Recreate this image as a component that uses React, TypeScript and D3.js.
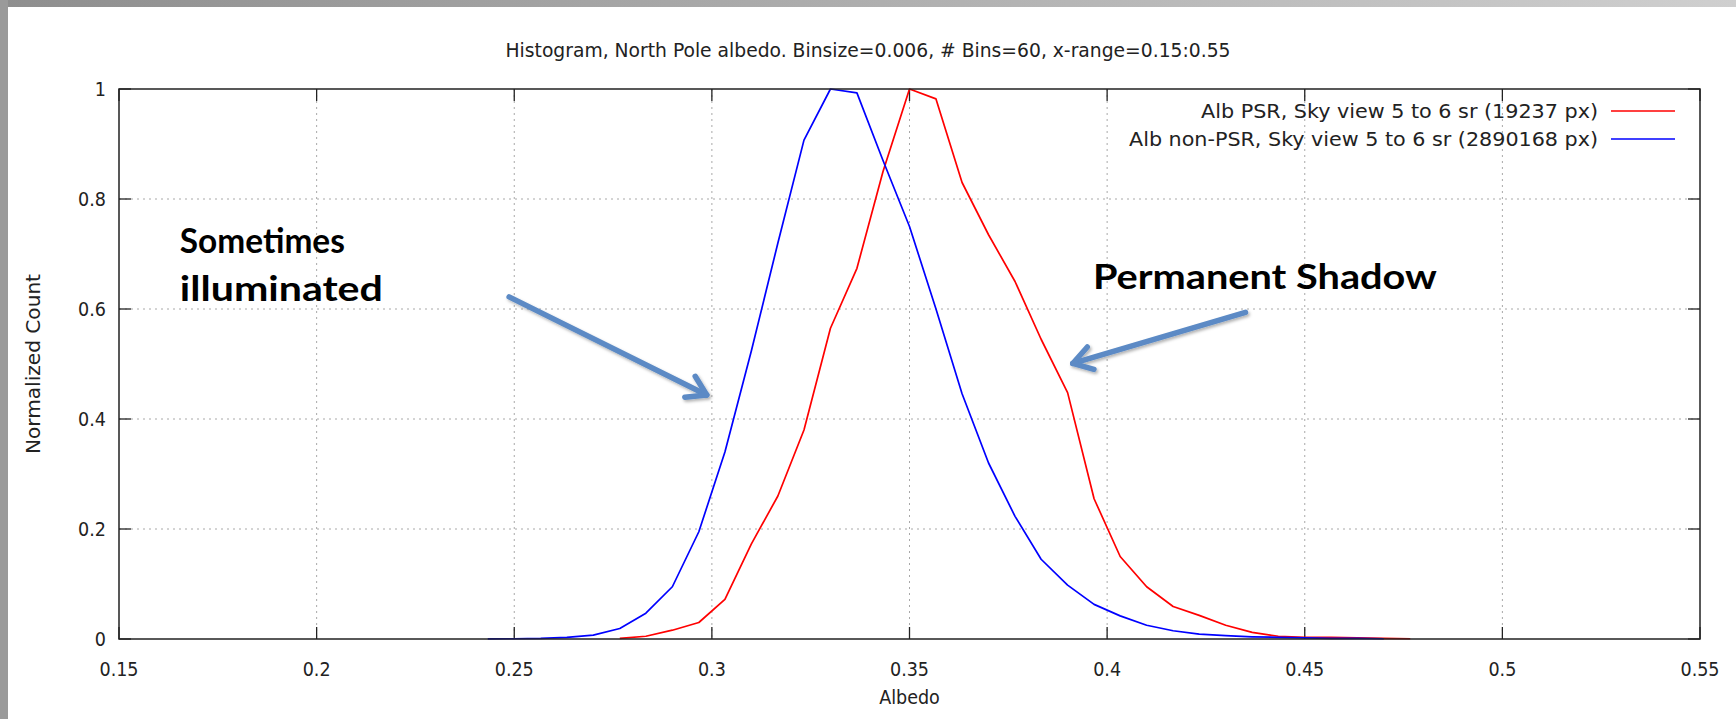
import React from 'react';
import * as d3 from 'd3';

// ---------------- data ----------------
const binCenters = [
  0.23, 0.2367, 0.2433, 0.25, 0.2567, 0.2633, 0.27, 0.2767, 0.2833, 0.29,
  0.2967, 0.3033, 0.31, 0.3167, 0.3233, 0.33, 0.3367, 0.3433, 0.35, 0.3567,
  0.3633, 0.37, 0.3767, 0.3833, 0.39, 0.3967, 0.4033, 0.41, 0.4167, 0.4233,
  0.43, 0.4367, 0.4433, 0.45, 0.4567, 0.4633, 0.47, 0.4767, 0.4833,
];

// red: Alb PSR
const psrCounts: (number | null)[] = [
  null, null, null, null, null, null, null, 0.001, 0.005, 0.016,
  0.03, 0.072, 0.173, 0.26, 0.38, 0.565, 0.674, 0.85, 1.0, 0.982,
  0.83, 0.735, 0.65, 0.545, 0.448, 0.255, 0.15, 0.095, 0.059, 0.043,
  0.025, 0.012, 0.005, 0.003, 0.003, 0.002, 0.001, 0.0005, null,
];

// blue: Alb non-PSR
const nonPsrCounts: (number | null)[] = [
  null, null, 0.0003, 0.0005, 0.001, 0.003, 0.007, 0.019, 0.047, 0.095,
  0.195, 0.34, 0.524, 0.72, 0.907, 1.0, 0.993, 0.87, 0.75, 0.6,
  0.446, 0.32, 0.223, 0.145, 0.098, 0.063, 0.042, 0.025, 0.015, 0.009,
  0.006, 0.004, 0.003, 0.002, 0.001, 0.001, 0.0005, null, null,
];

const xTicks = [0.15, 0.2, 0.25, 0.3, 0.35, 0.4, 0.45, 0.5, 0.55];
const yTicks = [0, 0.2, 0.4, 0.6, 0.8, 1];
const xDomain = [0.15, 0.55];
const yDomain = [0, 1];

const titleText = 'Histogram, North Pole albedo. Binsize=0.006, # Bins=60, x-range=0.15:0.55';
const xLabel = 'Albedo';
const yLabel = 'Normalized Count';
const seriesNames = [
  'Alb PSR, Sky view 5 to 6 sr (19237 px)',
  'Alb non-PSR, Sky view 5 to 6 sr (2890168 px)',
];
const seriesColors = ['#ff0000', '#0000ff'];

// annotations (data coordinates)
const annoLeft = ['Sometimes', 'illuminated'];
const annoRight = 'Permanent Shadow';
const arrowLeft = { from: [0.2487, 0.622], to: [0.2987, 0.4436] };
const arrowRight = { from: [0.435, 0.594], to: [0.3913, 0.501] };

// ---------------- layout ----------------
const W = 1736;
const H = 719;
const PL = 119;
const PR = 1700;
const PT = 89;
const PB = 639;

const chartFont = "'DejaVu Sans Condensed', 'DejaVu Sans', sans-serif";
const annoFont = "Lato, 'Open Sans', sans-serif";
const arrowColor = '#5b8ac5';
const fs = 19.5;

export default function App() {
  const x = d3.scaleLinear().domain(xDomain).range([PL, PR]);
  const y = d3.scaleLinear().domain(yDomain).range([PB, PT]);

  const line = d3
    .line<[number, number | null]>()
    .defined((d) => d[1] != null)
    .x((d) => x(d[0]))
    .y((d) => y(d[1] as number));

  const psrPath = line(binCenters.map((b, i) => [b, psrCounts[i]]));
  const nonPsrPath = line(binCenters.map((b, i) => [b, nonPsrCounts[i]]));

  const tickLen = 12;

  const arrow = (a: { from: number[]; to: number[] }) => {
    const x1 = x(a.from[0]);
    const y1 = y(a.from[1]);
    const x2 = x(a.to[0]);
    const y2 = y(a.to[1]);
    const ang = Math.atan2(y1 - y2, x1 - x2);
    const L = 22;
    const spread = (32 * Math.PI) / 180;
    const ax1 = x2 + L * Math.cos(ang + spread);
    const ay1 = y2 + L * Math.sin(ang + spread);
    const ax2 = x2 + L * Math.cos(ang - spread);
    const ay2 = y2 + L * Math.sin(ang - spread);
    return (
      <g filter="url(#shadow)">
        <line x1={x1} y1={y1} x2={x2} y2={y2} stroke={arrowColor} strokeWidth={5.5} strokeLinecap="round" />
        <polyline
          points={`${ax1},${ay1} ${x2},${y2} ${ax2},${ay2}`}
          fill="none"
          stroke={arrowColor}
          strokeWidth={5.5}
          strokeLinecap="round"
          strokeLinejoin="round"
        />
      </g>
    );
  };

  return (
    <svg
      width={W}
      height={H}
      style={{ position: 'absolute', left: 0, top: 0, display: 'block', background: '#fff' }}
    >
      <defs>
        <linearGradient id="topband" x1="0" x2="1" y1="0" y2="0">
          <stop offset="0" stopColor="#8e8e8e" />
          <stop offset="1" stopColor="#cfcfcf" />
        </linearGradient>
        <filter id="shadow" x="-20%" y="-20%" width="140%" height="140%">
          <feDropShadow dx="1.5" dy="2" stdDeviation="1.5" floodColor="#000" floodOpacity="0.3" />
        </filter>
      </defs>
      <rect x={0} y={0} width={W} height={H} fill="#ffffff" />
      {/* slide frame */}
      <rect x={0} y={0} width={W} height={7} fill="url(#topband)" />
      <rect x={0} y={0} width={8} height={H} fill="#9a9a9a" />

      {/* title */}
      <text
        x={W / 2}
        y={50}
        textAnchor="middle"
        dominantBaseline="central"
        fontFamily={chartFont}
        fontStretch="condensed"
        fontSize={fs}
        fill="#222"
        textLength={725}
        lengthAdjust="spacingAndGlyphs"
      >
        {titleText}
      </text>

      {/* grid */}
      <g stroke="#a8a8a8" strokeWidth={1} strokeDasharray="2,4">
        {xTicks.slice(1, -1).map((t) => (
          <line key={'gx' + t} x1={x(t)} x2={x(t)} y1={PT} y2={PB} />
        ))}
        {yTicks.slice(1, -1).map((t) => (
          <line key={'gy' + t} x1={PL} x2={PR} y1={y(t)} y2={y(t)} />
        ))}
      </g>

      {/* ticks */}
      <g stroke="#222" strokeWidth={1.3}>
        {xTicks.map((t) => (
          <g key={'tx' + t}>
            <line x1={x(t)} x2={x(t)} y1={PB} y2={PB - tickLen} />
            <line x1={x(t)} x2={x(t)} y1={PT} y2={PT + tickLen} />
          </g>
        ))}
        {yTicks.map((t) => (
          <g key={'ty' + t}>
            <line x1={PL} x2={PL + tickLen} y1={y(t)} y2={y(t)} />
            <line x1={PR} x2={PR - tickLen} y1={y(t)} y2={y(t)} />
          </g>
        ))}
      </g>

      {/* tick labels */}
      <g fontFamily={chartFont} fontStretch="condensed" fontSize={fs} fill="#222">
        {xTicks.map((t) => (
          <text key={'lx' + t} x={x(t)} y={669} textAnchor="middle" dominantBaseline="central">
            {String(t)}
          </text>
        ))}
        {yTicks.map((t) => (
          <text key={'ly' + t} x={106} y={y(t)} textAnchor="end" dominantBaseline="central">
            {String(t)}
          </text>
        ))}
      </g>

      {/* axis labels */}
      <text
        x={(PL + PR) / 2}
        y={697}
        textAnchor="middle"
        dominantBaseline="central"
        fontFamily={chartFont}
        fontStretch="condensed"
        fontSize={fs}
        fill="#222"
      >
        {xLabel}
      </text>
      <text
        transform={`translate(33,${(PT + PB) / 2}) rotate(-90)`}
        textAnchor="middle"
        dominantBaseline="central"
        fontFamily={chartFont}
        fontStretch="condensed"
        fontSize={fs}
        fill="#222"
        textLength={180}
        lengthAdjust="spacingAndGlyphs"
      >
        {yLabel}
      </text>

      {/* series */}
      <path d={psrPath || ''} fill="none" stroke={seriesColors[0]} strokeWidth={1.7} strokeLinejoin="round" />
      <path d={nonPsrPath || ''} fill="none" stroke={seriesColors[1]} strokeWidth={1.7} strokeLinejoin="round" />

      {/* frame */}
      <rect x={PL} y={PT} width={PR - PL} height={PB - PT} fill="none" stroke="#222" strokeWidth={1.5} />

      {/* legend */}
      <g fontFamily={chartFont} fontStretch="condensed" fontSize={fs} fill="#222">
        {seriesNames.map((name, i) => (
          <g key={name}>
            <text
              x={1598}
              y={111 + i * 28}
              textAnchor="end"
              dominantBaseline="central"
              textLength={i === 0 ? 397 : 469}
              lengthAdjust="spacingAndGlyphs"
            >
              {name}
            </text>
            <line x1={1611} x2={1675} y1={111 + i * 28} y2={111 + i * 28} stroke={seriesColors[i]} strokeWidth={1.7} />
          </g>
        ))}
      </g>

      {/* annotations */}
      <g fontFamily={annoFont} fontWeight="bold" fontSize={35} fill="#000">
        <text x={x(0.1654)} y={y(0.701)} textLength={165} lengthAdjust="spacingAndGlyphs">
          {annoLeft[0]}
        </text>
        <text x={x(0.1654)} y={y(0.6145)} textLength={203} lengthAdjust="spacingAndGlyphs">
          {annoLeft[1]}
        </text>
        <text x={x(0.3964)} y={y(0.636)} textLength={344} lengthAdjust="spacingAndGlyphs">
          {annoRight}
        </text>
      </g>
      {arrow(arrowLeft)}
      {arrow(arrowRight)}
    </svg>
  );
}
